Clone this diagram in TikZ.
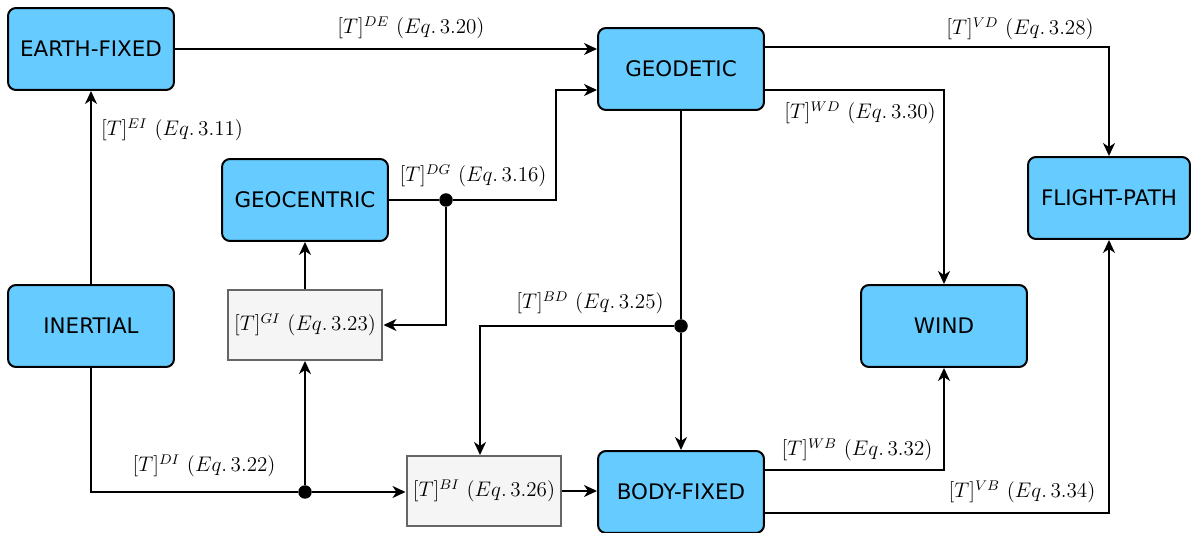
\documentclass[tikz,border=0pt]{standalone}
\usepackage{fontspec}
\usepackage{tikz}
\usetikzlibrary{arrows.meta}
\newfontfamily\framefont{DejaVu Sans}
\definecolor{frameblue}{HTML}{66CCFF}
\definecolor{boxgray}{HTML}{F5F5F5}
\definecolor{boxline}{HTML}{666666}
\tikzset{
	frame/.style={draw, line width=0.04cm, fill=frameblue, rounded corners=0.16cm, minimum width=3.32cm, minimum height=1.64cm, font=\framefont\fontsize{12.2}{14}\selectfont},
	eqbox/.style={draw=boxline, line width=0.04cm, fill=boxgray, minimum width=3.1cm, minimum height=1.4cm, font=\fontsize{12}{14}\selectfont},
	link/.style={line width=0.04cm},
	conn/.style={line width=0.04cm, -{Stealth[length=0.26cm, width=0.24cm, inset=0.08cm]}},
	joint/.style={circle, fill=black, inner sep=0, minimum size=0.27cm},
	eq/.style={font=\fontsize{12}{14}\selectfont, inner sep=0}
}
\begin{document}
\begin{tikzpicture}[x=0.02cm, y=-0.02cm]
	\useasboundingbox (0,0) rectangle (1191,533);
	\node[frame] (earth) at (91,49) {EARTH-FIXED};
	\node[frame] (geodetic) at (681,69) {GEODETIC};
	\node[frame] (geocentric) at (305,200) {GEOCENTRIC};
	\node[frame, minimum width=3.24cm] (flight) at (1109,198) {FLIGHT-PATH};
	\node[frame] (inertial) at (91,326) {INERTIAL};
	\node[frame] (wind) at (944,326) {WIND};
	\node[frame] (body) at (681,492) {BODY-FIXED};
	\node[eqbox] (gi) at (305,325) {$[T]^{GI}\ (Eq.\,3.23)$};
	\node[eqbox] (bi) at (484,491) {$[T]^{BI}\ (Eq.\,3.26)$};
	\node[joint] (jdg) at (446,200) {};
	\node[joint] (jdi) at (305,492) {};
	\node[joint] (jbd) at (681,326) {};
	\coordinate (dgin) at ([yshift=-0.42cm]geodetic.west);
	\coordinate (biin) at ([xshift=-0.08cm]bi.north);

	\draw[conn] (earth.east) -- (earth.east -| geodetic.west);
	\draw[conn] (inertial) -- (earth);
	\draw[link] (geocentric) -- (jdg);
	\draw[conn] (jdg) -- (556,200) |- (dgin);
	\draw[conn] (jdg) |- (gi.east);
	\draw[conn] (gi) -- (geocentric);
	\draw[link] (inertial) |- (jdi);
	\draw[conn] (jdi) -- (jdi -| bi.west);
	\draw[conn] (jdi) -- (gi);
	\draw[link] (geodetic) -- (jbd);
	\draw[conn] (jbd) -- (body);
	\draw[conn] (jbd) -| (biin);
	\draw[conn] (bi) -- (bi -| body.west);
	\draw[conn] ([yshift=0.44cm]geodetic.east) -| (flight);
	\draw[conn] ([yshift=-0.42cm]geodetic.east) -| (wind);
	\draw[conn] ([yshift=0.44cm]body.east) -| (wind);
	\draw[conn] ([yshift=-0.42cm]body.east) -| (flight);

	\node[eq] (lde) at (411,28) {$[T]^{DE}\ (Eq.\,3.20)$};
	\node[eq] (lei) at (172,130) {$[T]^{EI}\ (Eq.\,3.11)$};
	\node[eq] (ldg) at (473,176) {$[T]^{DG}\ (Eq.\,3.16)$};
	\node[eq] (ldi) at (204,466) {$[T]^{DI}\ (Eq.\,3.22)$};
	\node[eq] (lbd) at (590,303) {$[T]^{BD}\ (Eq.\,3.25)$};
	\node[eq] (lvd) at (1020,29) {$[T]^{VD}\ (Eq.\,3.28)$};
	\node[eq] (lwd) at (860,113) {$[T]^{WD}\ (Eq.\,3.30)$};
	\node[eq] (lwb) at (857,450) {$[T]^{WB}\ (Eq.\,3.32)$};
	\node[eq] (lvb) at (1022,492) {$[T]^{VB}\ (Eq.\,3.34)$};
\end{tikzpicture}
\end{document}
